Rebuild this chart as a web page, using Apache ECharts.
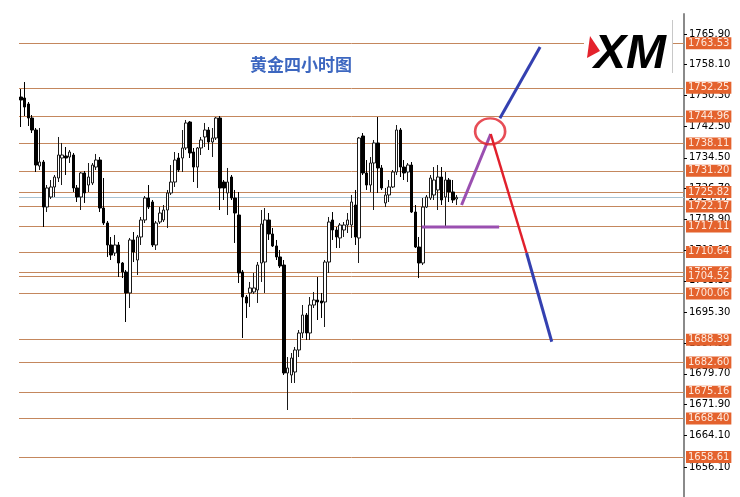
<!DOCTYPE html>
<html><head><meta charset="utf-8">
<script src="https://cdn.jsdelivr.net/npm/echarts@6/dist/echarts.min.js"></script>
<style>html,body{margin:0;padding:0;background:#fff}#c{width:740px;height:497px}</style>
</head><body><div id="c"></div>
<script>
// [open, close, low, high]
const candles = [
[1749.92,1749.16,1742.31,1751.95],[1749.67,1747.38,1745.10,1753.72],[1748.15,1744.59,1742.57,1748.65],[1744.59,1741.55,1740.79,1745.35],
[1741.55,1732.67,1730.90,1742.06],[1732.42,1733.43,1731.41,1742.06],[1733.43,1722.02,1716.95,1733.94],[1722.02,1726.85,1720.75,1727.60],
[1724.56,1727.10,1724.05,1728.87],[1727.10,1729.63,1724.56,1730.14],[1729.38,1735.21,1728.36,1739.78],[1734.45,1735.21,1727.60,1738.26],
[1734.96,1734.45,1730.14,1737.24],[1734.70,1735.97,1733.18,1736.48],[1735.21,1726.85,1725.83,1735.72],[1726.85,1724.56,1723.29,1727.60],
[1724.56,1730.65,1721.26,1730.90],[1730.65,1725.58,1723.05,1731.15],[1727.60,1729.63,1725.83,1733.18],[1728.11,1732.67,1727.60,1733.18],
[1732.16,1733.94,1731.41,1735.47],[1733.94,1721.77,1720.75,1734.70],[1721.77,1717.97,1717.46,1729.38],[1717.97,1712.39,1709.35,1718.48],
[1712.39,1709.85,1708.58,1714.42],[1710.36,1712.39,1709.60,1714.93],[1712.39,1707.82,1704.27,1713.15],[1707.82,1705.54,1704.01,1708.07],
[1705.54,1700.22,1692.86,1706.05],[1700.22,1713.66,1696.41,1714.17],[1713.66,1710.61,1708.07,1715.68],[1708.58,1714.42,1704.78,1714.93],
[1714.42,1718.73,1712.39,1719.49],[1718.73,1724.31,1717.97,1724.81],[1724.31,1722.02,1721.52,1727.60],[1723.29,1712.39,1711.88,1723.80],
[1712.39,1717.97,1711.12,1718.48],[1718.22,1720.50,1717.72,1722.02],[1718.73,1721.26,1718.22,1722.53],[1721.26,1725.58,1716.70,1726.34],
[1725.58,1728.36,1725.07,1732.67],[1728.36,1733.94,1727.10,1735.97],[1734.45,1731.41,1730.90,1735.72],[1734.45,1736.99,1730.90,1741.55],
[1736.99,1743.33,1736.48,1744.09],[1743.58,1735.72,1734.45,1743.83],[1735.97,1732.16,1728.36,1736.99],[1732.16,1736.99,1726.85,1737.24],
[1736.99,1739.02,1735.21,1739.78],[1739.78,1741.55,1737.24,1743.33],[1741.55,1738.51,1736.48,1742.31],[1738.51,1739.52,1734.70,1742.06],
[1739.52,1744.59,1739.02,1744.85],[1744.59,1726.85,1721.26,1745.10],[1728.36,1726.85,1723.80,1728.87],[1725.58,1728.36,1719.99,1731.92],
[1729.63,1724.31,1723.80,1730.14],[1724.31,1720.50,1712.90,1726.34],[1719.99,1705.29,1702.75,1725.83],[1705.54,1699.20,1688.80,1706.05],
[1699.20,1697.68,1693.88,1699.71],[1700.22,1701.49,1696.66,1703.01],[1700.47,1701.49,1699.96,1705.29],[1700.98,1707.31,1697.68,1708.07],
[1707.82,1717.72,1703.01,1721.26],[1708.07,1718.73,1700.22,1721.77],[1718.73,1715.18,1713.66,1720.50],[1715.18,1712.14,1711.88,1716.70],
[1712.14,1709.35,1708.58,1713.66],[1709.35,1707.07,1706.56,1711.12],[1707.31,1679.93,1679.42,1708.58],[1679.93,1681.20,1670.54,1683.98],
[1679.42,1683.73,1677.39,1685.00],[1680.18,1685.76,1677.39,1686.52],[1685.76,1690.07,1683.98,1690.83],[1690.07,1694.63,1688.80,1697.17],
[1694.63,1690.07,1688.30,1695.14],[1690.07,1697.17,1688.30,1699.20],[1697.17,1698.44,1696.41,1700.47],[1698.44,1697.93,1693.37,1704.27],
[1698.19,1697.68,1693.88,1700.22],[1697.93,1708.07,1691.59,1708.58],[1708.07,1718.22,1705.29,1719.49],[1718.73,1716.19,1713.66,1720.75],
[1716.19,1714.42,1711.63,1716.95],[1714.17,1717.46,1711.63,1717.97],[1716.19,1717.46,1714.42,1718.22],[1717.46,1718.73,1715.43,1720.50],
[1717.46,1723.29,1714.17,1725.07],[1722.53,1714.42,1712.39,1726.34],[1714.17,1739.52,1707.82,1739.78],[1740.03,1730.65,1730.14,1740.79],
[1730.65,1727.60,1726.34,1733.94],[1727.60,1733.18,1725.83,1734.70],[1733.18,1738.26,1721.26,1739.02],[1738.26,1731.92,1725.58,1744.85],
[1731.92,1726.85,1726.34,1732.67],[1723.05,1725.07,1722.02,1726.85],[1725.07,1727.10,1723.29,1728.87],[1727.10,1730.90,1726.85,1731.41],
[1730.90,1741.55,1730.14,1742.82],[1741.55,1732.16,1729.63,1742.06],[1732.16,1730.65,1728.87,1733.94],[1730.90,1732.67,1728.36,1733.18],
[1732.67,1720.75,1720.50,1733.43],[1720.75,1711.88,1711.63,1722.53],[1711.88,1707.82,1704.01,1714.42],[1707.82,1722.02,1707.31,1724.31],
[1722.02,1724.56,1721.77,1725.07],[1724.31,1729.38,1723.80,1730.14],[1725.07,1728.87,1723.80,1732.16],[1726.34,1729.63,1721.26,1732.67],
[1729.63,1723.80,1722.53,1732.16],[1724.56,1728.87,1716.70,1730.90],[1728.87,1725.83,1723.29,1729.38],[1725.83,1723.80,1723.05,1728.87],
[1724.05,1724.47,1722.53,1725.07]
];
const levels = [1763.53,1752.25,1744.96,1738.11,1731.20,1725.82,1722.17,1717.11,1710.64,1705.46,1704.52,1700.06,1688.39,1682.60,1675.16,1668.40,1658.61];
const currentPrice = 1724.47;
const tickLabels = [1765.90,1758.10,1750.30,1742.50,1734.50,1726.70,1718.90,1711.10,1703.30,1695.30,1687.50,1679.70,1671.90,1664.10,1656.10];
const titleText = '黄金四小时图';
const logoText = 'XM';
// projection lines in [bar index, price]
const purpleUp = [[117.3,1722.53],[125.05,1740.54]];
const redDown = [[125.05,1740.54],[134.6,1710.36]];
const blueDown = [[134.6,1710.36],[141.3,1687.85]];
const blueUp = [[127.5,1744.52],[138.2,1762.60]];
const purpleFlat = [[106.7,1716.95],[127.3,1716.95]];
const circleMark = [[124.9,1741.2]];

const SLOTS = 177;
const cats = [];
for (let i = 0; i < SLOTS; i++) cats.push(String(i));

const chart = echarts.init(document.getElementById('c'), null, {renderer: 'canvas'});
const FONT = 'DejaVu Sans';
const levelLabel = {
  show: true, position: 'end', distance: 2,
  formatter: p => Number(p.value).toFixed(2),
  backgroundColor: '#e4622d', color: '#fde8dc',
  fontFamily: FONT, fontSize: 10, padding: [1, 2, 1, 2]
};
const mlData = [{
  yAxis: currentPrice,
  lineStyle: {color: '#a9c3d3', width: 1, type: 'solid'},
  label: Object.assign({}, levelLabel, {backgroundColor: '#ffffff', color: '#111'})
}].concat(levels.map(v => ({
  yAxis: v,
  lineStyle: {color: '#c4875d', width: 1, type: 'solid'},
  label: levelLabel
})));

function seg(data, color, width) {
  return {type: 'line', xAxisIndex: 1, yAxisIndex: 0, data: data, symbol: 'none',
    lineStyle: {color: color, width: width}, silent: true, z: 5};
}

chart.setOption({
  animation: false,
  backgroundColor: '#ffffff',
  title: {text: titleText, left: 245, top: 51,
    textStyle: {color: '#3d67c0', fontSize: 17, fontWeight: 'bold', fontFamily: 'Noto Sans CJK SC'}},
  grid: {left: 19, right: 56, top: 14, bottom: 0, containLabel: false},
  xAxis: [
    {type: 'category', data: cats, boundaryGap: true, show: false},
    {type: 'value', min: -0.5, max: SLOTS - 0.5, show: false}
  ],
  yAxis: {
    type: 'value', position: 'right', min: 1648.48, max: 1770.97, scale: true,
    splitLine: {show: false},
    axisLine: {show: true, onZero: false, lineStyle: {color: '#8a8a8a', width: 2}},
    axisTick: {show: true, customValues: tickLabels, length: 3, lineStyle: {color: '#000'}},
    axisLabel: {customValues: tickLabels, formatter: v => Number(v).toFixed(2), color: '#000',
      fontFamily: FONT, fontSize: 10, margin: 5}
  },
  graphic: [
    {type: 'rect', shape: {x: 584, y: 22, width: 88, height: 51}, style: {fill: '#ffffff'}, z: 10},
    {type: 'line', shape: {x1: 672.5, y1: 20, x2: 672.5, y2: 73}, style: {stroke: '#c8c8c8', lineWidth: 1}, z: 10},
    {type: 'text', x: 594, y: 31, style: {text: logoText, fill: '#000', font: 'italic bold 48px "Liberation Sans"'}, z: 11},
    {type: 'polygon', shape: {points: [[590, 36], [600, 51], [587, 58]]}, style: {fill: '#e4222c'}, z: 12}
  ],
  series: [
    {
      type: 'candlestick', xAxisIndex: 0, yAxisIndex: 0, data: candles, barWidth: 3,
      itemStyle: {color: '#ffffff', color0: '#000000', borderColor: '#1a1a1a', borderColor0: '#000000', borderWidth: 1},
      markLine: {silent: true, symbol: ['none', 'none'], precision: 2, data: mlData, z: 1},
      z: 3
    },
    seg(purpleFlat, '#9a4fb0', 3),
    seg(purpleUp, '#9a4fb0', 3),
    seg(redDown, '#e1202c', 2.5),
    seg(blueDown, '#3440b0', 3),
    seg(blueUp, '#3440b0', 3),
    {type: 'scatter', xAxisIndex: 1, yAxisIndex: 0, data: circleMark, symbol: 'circle', symbolSize: [30, 26],
      itemStyle: {color: 'rgba(0,0,0,0)', borderColor: '#e1202c', borderWidth: 2.5}, silent: true, z: 6}
  ]
});
</script></body></html>
